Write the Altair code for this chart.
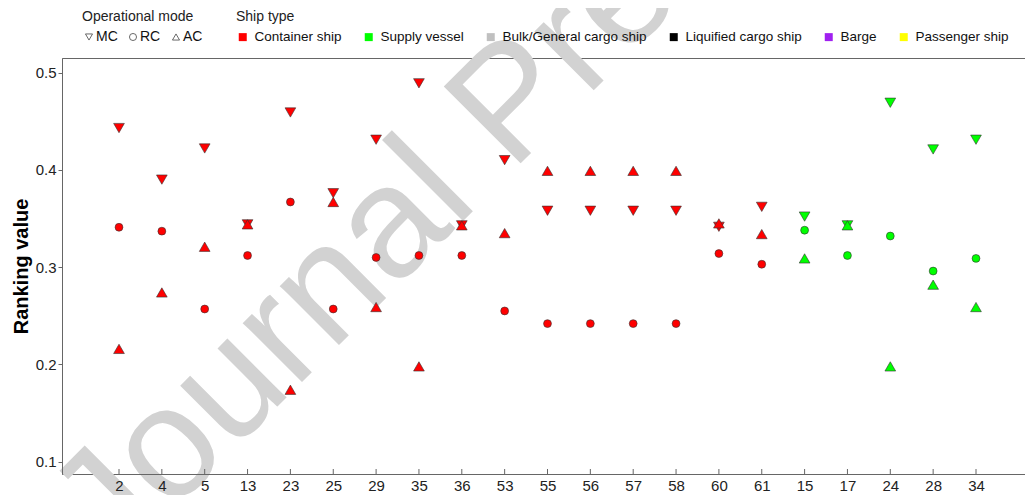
import altair as alt
import pandas as pd

# ---- data ----
categories = ["2", "4", "5", "13", "23", "25", "29", "35", "36", "53", "55",
              "56", "57", "58", "60", "61", "15", "17", "24", "28", "34"]
ship_of_cat = ["Container ship"] * 16 + ["Supply vessel"] * 5
mc_values = [0.443, 0.390, 0.422, 0.344, 0.459, 0.376, 0.431, 0.489, 0.343, 0.410, 0.358,
             0.358, 0.358, 0.358, 0.3415, 0.362, 0.352, 0.343, 0.469, 0.421, 0.431]
rc_values = [0.341, 0.337, 0.257, 0.312, 0.367, 0.257, 0.310, 0.312, 0.312, 0.255, 0.242,
             0.242, 0.242, 0.242, 0.314, 0.303, 0.338, 0.312, 0.332, 0.296, 0.309]
ac_values = [0.216, 0.274, 0.321, 0.344, 0.174, 0.367, 0.259, 0.198, 0.343, 0.335, 0.399,
             0.399, 0.399, 0.399, 0.345, 0.334, 0.309, 0.343, 0.198, 0.282, 0.259]

modes = ["MC", "RC", "AC"]
mode_shapes = ["triangle-down", "circle", "triangle-up"]
ship_types = ["Container ship", "Supply vessel", "Bulk/General cargo ship",
              "Liquified cargo ship", "Barge", "Passenger ship"]
ship_colors = ["#ff0000", "#00ff00", "#c0c0c0", "#000000", "#a020f0", "#ffff00"]
y_ticks = [0.1, 0.2, 0.3, 0.4, 0.5]
watermark = ["Journal Pre-proof"]

rows = []
for i, c in enumerate(categories):
    for m, vals in zip(modes, [mc_values, rc_values, ac_values]):
        rows.append({"cat": c, "mode": m, "ship": ship_of_cat[i], "value": vals[i]})
df = pd.DataFrame(rows)
cat_df = pd.DataFrame({"cat": categories})

W, H = 963, 416

x_scale = alt.Scale(type="point", domain=categories, range=[57, 914], padding=0)
y_scale = alt.Scale(domain=[0.0874, 0.515], nice=False, zero=False)

x_enc = alt.X("cat:N", scale=x_scale, sort=categories,
              axis=alt.Axis(title=None, labelAngle=0, tickSize=0, labelPadding=4,
                            labelFontSize=15, labelColor="#222222", domainColor="#666666",
                            zindex=2))
y_enc = alt.Y("value:Q", scale=y_scale,
              axis=alt.Axis(title="Ranking value", values=y_ticks, format=".1f",
                            labelFontSize=15, labelColor="#222222", tickSize=4, labelPadding=2,
                            tickColor="#666666", domainColor="#666666",
                            titleFontSize=20, titleFontWeight="bold", titleColor="#000000",
                            titlePadding=4, grid=False, zindex=2))
shape_enc = alt.Shape("mode:N", scale=alt.Scale(domain=modes, range=mode_shapes),
                      legend=alt.Legend(title="Operational mode", orient="none", legendX=20, legendY=-48,
                                        direction="horizontal", symbolFillColor="white",
                                        symbolStrokeColor="#444444", symbolStrokeWidth=0.8,
                                        symbolSize=50, labelOffset=0, columnPadding=8,
                                        labelFontSize=14, titleFontSize=14, titleFontWeight="normal",
                                        titleColor="#222222", labelColor="#111111", titlePadding=6,
                                        zindex=2))
color_enc = alt.Color("ship:N", scale=alt.Scale(domain=ship_types, range=ship_colors),
                      legend=alt.Legend(title="Ship type", orient="none",
                                        legendX=174, legendY=-48, direction="horizontal",
                                        symbolType="square", symbolSize=64, symbolStrokeWidth=0,
                                        symbolOpacity=1, labelOffset=5, columnPadding=20,
                                        labelFontSize=13.5, titleFontSize=14, titleFontWeight="normal",
                                        titleColor="#222222", labelColor="#111111", titlePadding=6,
                                        zindex=2))

wm = alt.Chart(pd.DataFrame({"t": watermark})).mark_text(
    angle=315, align="left", baseline="alphabetic", fontSize=158,
    color="#d2d2d2", font="Liberation Sans"
).encode(text="t:N", x=alt.value(52), y=alt.value(512))

tri = alt.Chart(df).transform_filter(alt.datum.mode != "RC").mark_point(
    filled=True, opacity=1, stroke="#333333", strokeWidth=0.6, size=115
).encode(x=x_enc, y=y_enc, shape=shape_enc, color=color_enc)

circ = alt.Chart(df).transform_filter(alt.datum.mode == "RC").mark_point(
    filled=True, opacity=1, stroke="#333333", strokeWidth=0.6, size=62
).encode(x=x_enc, y=y_enc, shape=shape_enc, color=color_enc)

xticks = alt.Chart(cat_df).mark_rule(color="#666666", strokeWidth=1).encode(
    x=alt.X("cat:N", scale=x_scale, sort=categories),
    y=alt.value(H - 5), y2=alt.value(H),
)

chart = alt.layer(wm, tri, circ, xticks).properties(
    width=W, height=H,
    autosize=alt.AutoSizeParams(type="none"),
    padding={"left": 54, "top": 50, "right": 0, "bottom": 21},
).configure(font="Liberation Sans").configure_view(stroke="#666666", strokeWidth=1)

chart.save("out.html", embed_options={"renderer": "svg", "actions": False})
